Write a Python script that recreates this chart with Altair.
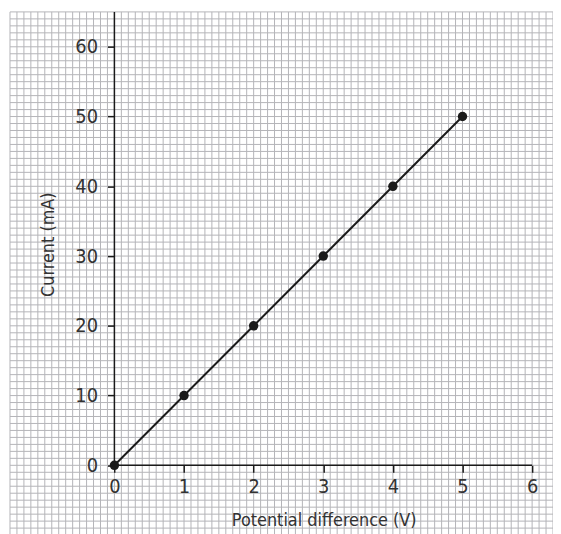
import altair as alt
import pandas as pd
import numpy as np

# ---- data ----
voltage = [0, 1, 2, 3, 4, 5]
current = [0, 10, 20, 30, 40, 50]
x_ticks = [0, 1, 2, 3, 4, 5, 6]
y_ticks = [0, 10, 20, 30, 40, 50, 60]
x_title = "Potential difference (V)"
y_title = "Current (mA)"

# ---- layout ----
X_DOM = [-1.5, 6.3]
Y_DOM = [-10, 65]
W, H = 547, 527
FONT = "DejaVu Sans Condensed, Liberation Sans Narrow, sans-serif"
INK = "#1a1a1a"
TXT = "#333333"
GRID = "#b4b4b8"

x_grid = [round(v / 10, 1) for v in range(-15, 64)]
y_grid = list(range(-10, 66))

xscale = alt.Scale(domain=X_DOM, nice=False, zero=False)
yscale = alt.Scale(domain=Y_DOM, nice=False, zero=False)

# axis offsets so that the axes pass through the data origin
left_off = -(0 - X_DOM[0]) / (X_DOM[1] - X_DOM[0]) * W
bottom_off = -(0 - Y_DOM[0]) / (Y_DOM[1] - Y_DOM[0]) * H

df_pts = pd.DataFrame({"v": voltage, "i": current})
df_xg = pd.DataFrame({"v": x_grid})
df_yg = pd.DataFrame({"i": y_grid})
df_xaxis = pd.DataFrame({"v": [x_ticks[0]], "v2": [x_ticks[-1]], "i": [0]})
df_yaxis = pd.DataFrame({"i": [0], "i2": [Y_DOM[1]], "v": [0]})

x_axis = alt.Axis(
    values=x_ticks, offset=bottom_off, domain=False, grid=False, zindex=1,
    tickSize=7, tickWidth=1.5, tickColor=INK,
    labelPadding=4, labelFont=FONT, labelFontSize=20, labelColor=TXT,
    title=x_title, titleFont=FONT, titleFontSize=18, titleFontWeight="normal",
    titleColor=TXT, titleX=316, titleY=61, titleBaseline="alphabetic",
)
y_axis = alt.Axis(
    values=y_ticks, offset=left_off, domain=False, grid=False, zindex=1,
    tickSize=7, tickWidth=1.5, tickColor=INK,
    labelPadding=10, labelFont=FONT, labelFontSize=20, labelColor=TXT,
    title=y_title, titleFont=FONT, titleFontSize=18, titleFontWeight="normal",
    titleColor=TXT, titleX=-61, titleY=234, titleBaseline="alphabetic",
)


def X(f):
    return alt.X(f, type="quantitative", scale=xscale, axis=x_axis)


def Y(f):
    return alt.Y(f, type="quantitative", scale=yscale, axis=y_axis)


vgrid = alt.Chart(df_xg).mark_rule(color=GRID, strokeWidth=1).encode(x=X("v"))
hgrid = alt.Chart(df_yg).mark_rule(color=GRID, strokeWidth=1).encode(y=Y("i"))
xaxis_line = alt.Chart(df_xaxis).mark_rule(color=INK, strokeWidth=1.5).encode(
    x=X("v"), x2="v2:Q", y=Y("i")
)
yaxis_line = alt.Chart(df_yaxis).mark_rule(color=INK, strokeWidth=1.5).encode(
    y=Y("i"), y2="i2:Q", x=X("v")
)
line = alt.Chart(df_pts).mark_line(color=INK, strokeWidth=2).encode(
    x=X("v"), y=Y("i")
)
pts = alt.Chart(df_pts).mark_circle(color=INK, size=90, opacity=1).encode(
    x=X("v"), y=Y("i")
)

chart = alt.layer(vgrid, hgrid, xaxis_line, yaxis_line, line, pts).properties(
    width=W, height=H,
    padding={"left": 2, "top": 2, "right": 0, "bottom": 0},
    autosize=alt.AutoSizeParams(type="none"),
    background="white",
).configure_view(stroke=None)

chart.save("out.html", embed_options={"renderer": "svg", "actions": False})
